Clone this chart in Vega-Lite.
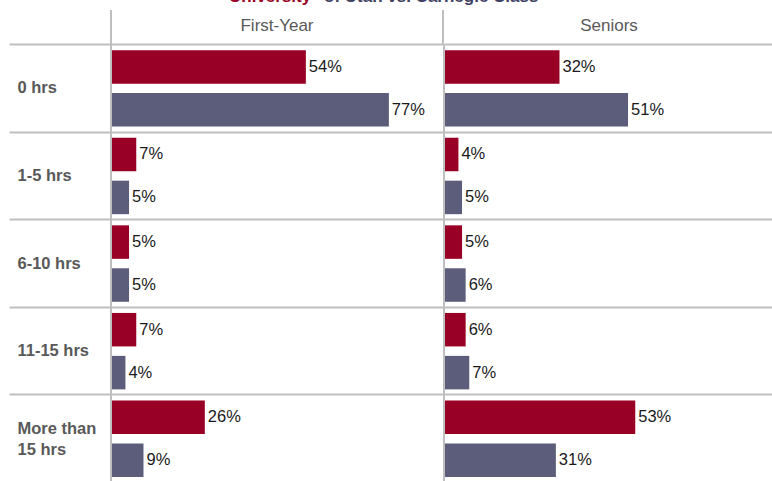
{
  "$schema": "https://vega.github.io/schema/vega-lite/v6.json",
  "padding": {"left": 8, "top": 0, "right": 0, "bottom": 0},
  "autosize": {"type": "pad"},
  "spacing": 0,
  "bounds": "flush",
  "config": {"view": {"stroke": null}, "font": "Liberation Sans"},
  "datasets": {
    "bars": [
      {"group": "First-Year", "hours": "0 hrs", "series": "University", "value": 0.54},
      {"group": "First-Year", "hours": "0 hrs", "series": "Carnegie", "value": 0.77},
      {"group": "First-Year", "hours": "1-5 hrs", "series": "University", "value": 0.07},
      {"group": "First-Year", "hours": "1-5 hrs", "series": "Carnegie", "value": 0.05},
      {"group": "First-Year", "hours": "6-10 hrs", "series": "University", "value": 0.05},
      {"group": "First-Year", "hours": "6-10 hrs", "series": "Carnegie", "value": 0.05},
      {"group": "First-Year", "hours": "11-15 hrs", "series": "University", "value": 0.07},
      {"group": "First-Year", "hours": "11-15 hrs", "series": "Carnegie", "value": 0.04},
      {"group": "First-Year", "hours": "More than 15 hrs", "series": "University", "value": 0.26},
      {"group": "First-Year", "hours": "More than 15 hrs", "series": "Carnegie", "value": 0.09},
      {"group": "Seniors", "hours": "0 hrs", "series": "University", "value": 0.32},
      {"group": "Seniors", "hours": "0 hrs", "series": "Carnegie", "value": 0.51},
      {"group": "Seniors", "hours": "1-5 hrs", "series": "University", "value": 0.04},
      {"group": "Seniors", "hours": "1-5 hrs", "series": "Carnegie", "value": 0.05},
      {"group": "Seniors", "hours": "6-10 hrs", "series": "University", "value": 0.05},
      {"group": "Seniors", "hours": "6-10 hrs", "series": "Carnegie", "value": 0.06},
      {"group": "Seniors", "hours": "11-15 hrs", "series": "University", "value": 0.06},
      {"group": "Seniors", "hours": "11-15 hrs", "series": "Carnegie", "value": 0.07},
      {"group": "Seniors", "hours": "More than 15 hrs", "series": "University", "value": 0.53},
      {"group": "Seniors", "hours": "More than 15 hrs", "series": "Carnegie", "value": 0.31}
    ],
    "groups": [{"group": "First-Year"}, {"group": "Seniors"}]
  },
  "vconcat": [
    {
      "data": {"name": "groups"},
      "width": 664,
      "height": 44,
      "layer": [
        {
          "mark": {"type": "text", "fontSize": 17, "color": "#595959", "baseline": "middle"},
          "encoding": {
            "x": {"field": "group", "type": "nominal", "axis": null, "scale": {"paddingInner": 0, "paddingOuter": 0}},
            "y": {"value": 26},
            "text": {"field": "group"}
          }
        },
        {
          "mark": {"type": "rule", "color": "#bfbfbf", "strokeWidth": 2},
          "encoding": {
            "x": {"field": "group", "type": "nominal", "bandPosition": 0},
            "y": {"value": 10},
            "y2": {"value": 44}
          }
        },
        {
          "data": {"values": [{"t": "University"}]},
          "mark": {"type": "text", "clip": true, "fontSize": 17, "fontWeight": "bold", "color": "#990026", "align": "left", "baseline": "alphabetic", "x": 118, "y": 2},
          "encoding": {"text": {"field": "t"}}
        },
        {
          "data": {"values": [{"t": "of Utah vs. Carnegie Class"}]},
          "mark": {"type": "text", "clip": true, "fontSize": 17, "fontWeight": "bold", "color": "#3f4163", "align": "left", "baseline": "alphabetic", "x": 213, "y": 2},
          "encoding": {"text": {"field": "t"}}
        }
      ]
    },
    {
      "data": {"name": "bars"},
      "facet": {"column": {"field": "group", "type": "nominal", "header": null}},
      "spacing": 0,
      "spec": {
        "width": 332,
        "height": 438,
        "encoding": {
          "y": {
            "field": "hours", "type": "nominal",
            "sort": ["0 hrs", "1-5 hrs", "6-10 hrs", "11-15 hrs", "More than 15 hrs"],
            "scale": {"paddingInner": 0, "paddingOuter": 0},
            "axis": {
              "title": null, "tickBand": "extent", "grid": true, "gridColor": "#bfbfbf", "gridWidth": 2,
              "tickSize": 101, "tickColor": "#bfbfbf", "tickWidth": 2, "domain": false,
              "labelAlign": "left", "labelPadding": -8, "labelFontSize": 16.5, "labelFontWeight": "bold",
              "labelColor": "#595959", "labelLimit": 200, "labelLineHeight": 21,
              "labelOffset": {"condition": {"test": "datum.label == 'More than 15 hrs'", "value": -10}, "value": 0},
              "labelExpr": "datum.label == 'More than 15 hrs' ? ['More than', '15 hrs'] : datum.label"
            }
          },
          "yOffset": {"field": "series", "type": "nominal", "sort": ["University", "Carnegie"], "scale": {"paddingInner": 0.22, "paddingOuter": 0.13, "align": 0.55}},
          "x": {"field": "value", "type": "quantitative", "scale": {"domain": [0, 0.92]}, "axis": null}
        },
        "layer": [
          {
            "mark": {"type": "bar"},
            "encoding": {
              "color": {"field": "series", "type": "nominal", "scale": {"domain": ["University", "Carnegie"], "range": ["#990026", "#5b5d7b"]}, "legend": null}
            }
          },
          {
            "mark": {"type": "text", "align": "left", "dx": 3, "fontSize": 16.5, "color": "#1a1a1a", "baseline": "middle"},
            "encoding": {"text": {"field": "value", "type": "quantitative", "format": ".0%"}}
          },
          {
            "mark": {"type": "rule", "color": "#bfbfbf", "strokeWidth": 2},
            "encoding": {"x": {"datum": 0}, "y": null, "yOffset": null}
          }
        ]
      }
    }
  ]
}
